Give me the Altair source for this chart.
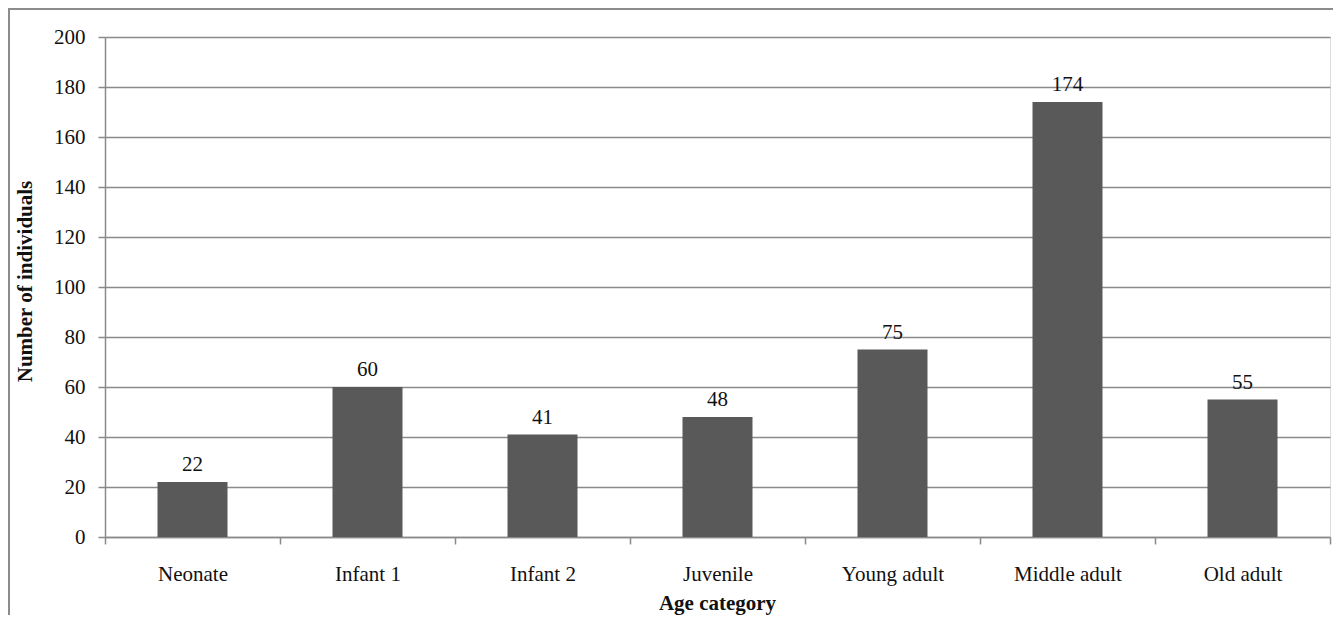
import altair as alt
import pandas as pd

categories = ["Neonate", "Infant 1", "Infant 2", "Juvenile", "Young adult", "Middle adult", "Old adult"]
counts = [22, 60, 41, 48, 75, 174, 55]
y_ticks = [0, 20, 40, 60, 80, 100, 120, 140, 160, 180, 200]

df = pd.DataFrame({"category": categories, "count": counts})

FONT = "Liberation Serif"
GRAY = "#8a8a8a"

x_enc = alt.X(
    "category:N",
    sort=categories,
    scale=alt.Scale(paddingInner=0, paddingOuter=0),
    axis=alt.Axis(
        title="Age category",
        labelAngle=0,
        tickBand="extent",
        tickSize=7,
        tickColor=GRAY,
        domainColor=GRAY,
        domainWidth=1.5,
        tickWidth=1.5,
        labelFont=FONT,
        labelFontSize=21,
        labelColor="#111111",
        labelBaseline="alphabetic",
        labelPadding=36,
        titleFont=FONT,
        titleFontSize=21,
        titleFontWeight="bold",
        titleColor="#111111",
        titleBaseline="alphabetic",
        titleX=612,
        titleY=72,
        grid=False,
    ),
)

y_enc = alt.Y(
    "count:Q",
    scale=alt.Scale(domain=[0, 200], nice=False),
    axis=alt.Axis(
        title="Number of individuals",
        values=y_ticks,
        tickSize=7,
        tickColor=GRAY,
        tickWidth=1.5,
        domainColor=GRAY,
        domainWidth=1.5,
        grid=True,
        gridColor=GRAY,
        gridWidth=1.5,
        labelFont=FONT,
        labelFontSize=21,
        labelColor="#111111",
        labelPadding=13,
        titleFont=FONT,
        titleFontSize=21,
        titleFontWeight="bold",
        titleColor="#111111",
        titleAngle=-90,
        titleBaseline="middle",
        titleX=-80,
        titleY=244,
    ),
)

bars = alt.Chart(df).mark_bar(
    color="#595959", width=alt.RelativeBandSize(0.4)
).encode(x=x_enc, y=y_enc)

labels = alt.Chart(df).mark_text(
    baseline="alphabetic", dy=-11, font=FONT, fontSize=21, color="#111111"
).encode(
    x=alt.X("category:N", sort=categories),
    y=alt.Y("count:Q"),
    text=alt.Text("count:Q"),
)

border = alt.Chart(pd.DataFrame({"a": [0]})).mark_rect(
    fillOpacity=0, stroke="#8c8c8c", strokeWidth=2
).encode(
    x=alt.value(-96), y=alt.value(-28), x2=alt.value(3000), y2=alt.value(3000)
)

chart = alt.layer(border, bars, labels).properties(
    width=1225,
    height=500,
    padding={"left": 97, "top": 29, "right": 3, "bottom": 78},
    autosize=alt.AutoSizeParams(type="none"),
).configure_view(stroke=None).configure(background="white")

chart.save("out.html", embed_options={"renderer": "svg", "actions": False})
